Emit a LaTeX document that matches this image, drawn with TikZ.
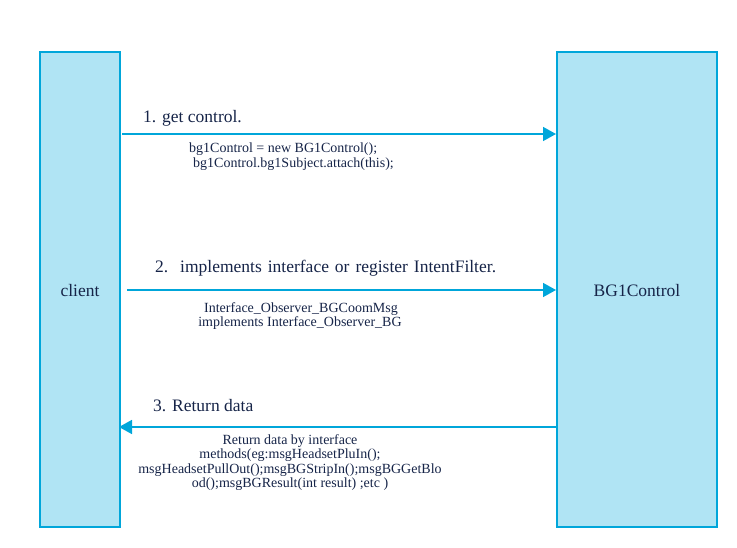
\documentclass[tikz,border=0pt]{standalone}
\usepackage{fontspec}
\setmainfont{LiberationSerif}[Extension=.ttf,UprightFont=*-Regular,BoldFont=*-Bold]
\usetikzlibrary{arrows.meta}
\definecolor{boxline}{RGB}{0,166,218}
\definecolor{boxfill}{RGB}{176,228,244}
\definecolor{txt}{RGB}{22,36,72}
\begin{document}
\begin{tikzpicture}[x=1pt,y=-1pt,
  lifeline/.style={draw=boxline,fill=boxfill,line width=2.2pt,inner sep=0pt},
  msg/.style={draw=boxline,line width=1.6pt,-{Triangle[length=13pt,width=14pt]}},
  biglabel/.style={text=txt,font=\fontsize{17.5}{20}\selectfont,inner sep=0pt},
  small/.style={text=txt,font=\fontsize{14}{14.5}\selectfont,inner sep=0pt,align=center}]
\useasboundingbox (0,0) rectangle (737,548);
\draw[lifeline] (40,52) rectangle (120,527);
\draw[lifeline] (557,52) rectangle (717,527);
\node[biglabel] (client) at (80,291) {client};
\node[biglabel] (bg) at (637,291) {BG1Control};
\coordinate (a1s) at (122,134);
\coordinate (a1e) at (556,134);
\coordinate (a2s) at (127,290);
\coordinate (a2e) at (556,290);
\coordinate (a3s) at (557,427);
\coordinate (a3e) at (119,427);
\draw[msg] (a1s) -- (a1e);
\draw[msg] (a2s) -- (a2e);
\draw[msg] (a3s) -- (a3e);
\node[biglabel,anchor=west] (l1) at (143,118) {1. get control.};
\node[small,anchor=west] (c1) at (189,149) {bg1Control = new BG1Control();};
\node[small,anchor=west] (c2) at (193,164) {bg1Control.bg1Subject.attach(this);};
\node[biglabel,anchor=west] (l2) at (155,268) {\spaceskip=0.34em\relax 2.\ \ implements interface or register IntentFilter.};
\node[small] (d1) at (301,309) {Interface\_Observer\_BGCoomMsg};
\node[small] (d2) at (300,323) {implements Interface\_Observer\_BG};
\node[biglabel,anchor=west] (l3) at (153,406) {3. Return data};
\node[small] (e1) at (290,441) {Return data by interface};
\node[small] (e2) at (290,455) {methods(eg:msgHeadsetPluIn();};
\node[small] (e3) at (290,470) {msgHeadsetPullOut();msgBGStripIn();msgBGGetBlo};
\node[small] (e4) at (290,484) {od();msgBGResult(int result) ;etc )};
\end{tikzpicture}
\end{document}
